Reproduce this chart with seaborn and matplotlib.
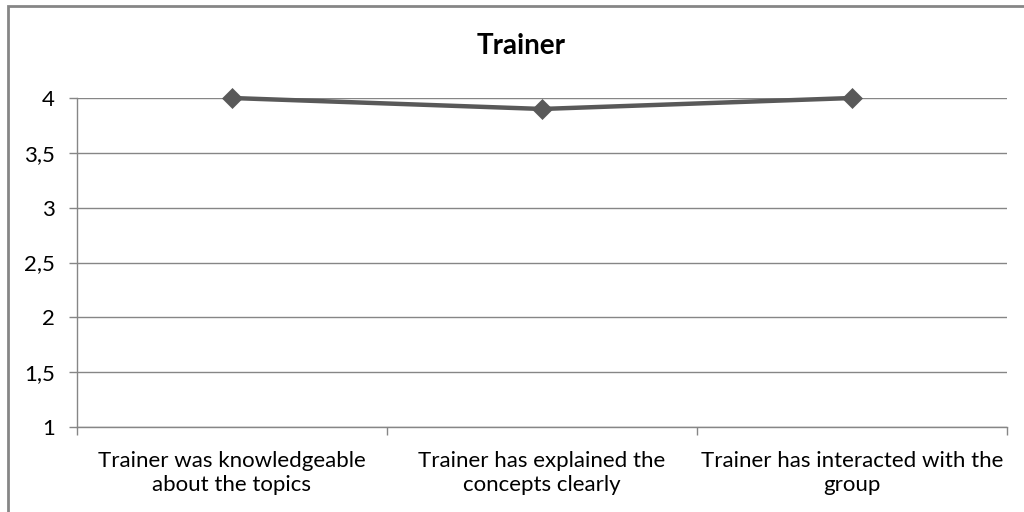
import matplotlib
matplotlib.use("Agg")
import matplotlib.pyplot as plt
import seaborn as sns
import pandas as pd
from matplotlib.ticker import FixedLocator, FuncFormatter

categories = [
    "Trainer was knowledgeable\nabout the topics",
    "Trainer has explained the\nconcepts clearly",
    "Trainer has interacted with the\ngroup",
]
scores = [4.0, 3.9, 4.0]
y_ticks = [1, 1.5, 2, 2.5, 3, 3.5, 4]
title = "Trainer"

sns.set_theme(style="white")
plt.rcParams["font.family"] = ["Lato", "DejaVu Sans"]

df = pd.DataFrame({"cat": categories, "x": range(len(categories)), "score": scores})

fig = plt.figure(figsize=(10.24, 5.12), dpi=100)
ax = fig.add_axes([77 / 1024, 1 - 427 / 512, (1007 - 77) / 1024, (427 - 98) / 512])

line_col = "#595959"
grid_col = "#868686"

for yv in y_ticks:
    ax.axhline(yv, color=grid_col, lw=1.0, zorder=1)

sns.lineplot(data=df, x="x", y="score", ax=ax, color=line_col, lw=3.2,
             marker="D", markersize=10, markeredgecolor=line_col,
             markeredgewidth=0.5, zorder=3, clip_on=False)

ax.set_xlim(-0.5, len(categories) - 0.5)
ax.set_ylim(1, 4)
ax.set_xlabel("")
ax.set_ylabel("")

ax.set_yticks(y_ticks)
ax.yaxis.set_major_formatter(FuncFormatter(lambda v, p: (f"{v:g}").replace(".", ",")))
ax.set_xticks(range(len(categories)))
ax.set_xticklabels(categories, fontsize=16, color="#000000", linespacing=1.3)
ax.xaxis.set_minor_locator(FixedLocator([i - 0.5 for i in range(len(categories) + 1)]))

ax.tick_params(axis="x", which="major", length=0, pad=17)
ax.tick_params(axis="x", which="minor", length=6, width=1, color=grid_col, direction="out", bottom=True)
ax.tick_params(axis="y", which="major", length=6, width=1, color=grid_col, direction="out",
               left=True, labelsize=16, pad=10, labelcolor="#000000")

for s in ["top", "right"]:
    ax.spines[s].set_visible(False)
for s in ["left", "bottom"]:
    ax.spines[s].set_color(grid_col)
    ax.spines[s].set_linewidth(1.0)

fig.text(521 / 1024, 1 - 46 / 512, title, ha="center", va="center",
         fontsize=20, fontweight="bold", color="#000000")

# outer chart border (top and left visible)
border = plt.Rectangle((7.5 / 1024, -0.1), 1.2, 1 - 5.5 / 512 + 0.1, transform=fig.transFigure,
                       fill=False, edgecolor="#868686", lw=2.0)
fig.patches.append(border)

fig.savefig("out.png", dpi=100)
